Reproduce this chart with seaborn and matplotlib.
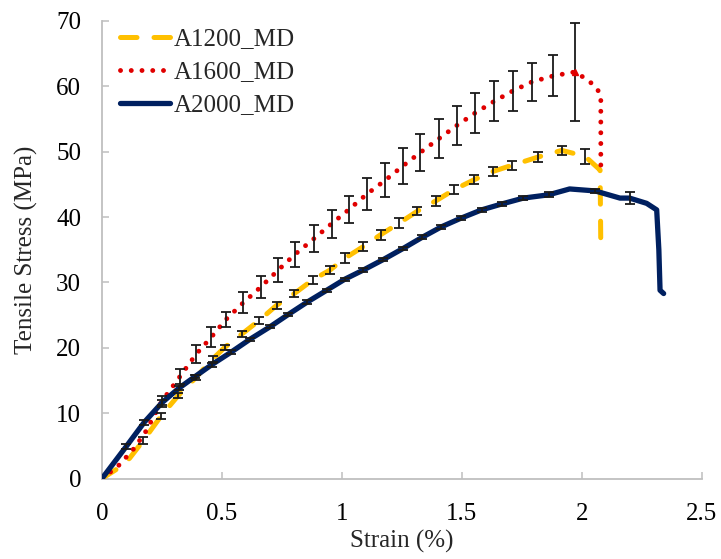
import numpy as np
import matplotlib
matplotlib.use('Agg')
import matplotlib.pyplot as plt
import seaborn as sns

# Strain (%) / tensile stress (MPa) / half error bar
a1200_strain = [0, 0.06, 0.115, 0.172, 0.247, 0.318, 0.39, 0.462, 0.513, 0.583,
                0.656, 0.728, 0.802, 0.879, 0.951, 1.013, 1.09, 1.162, 1.24, 1.315,
                1.393, 1.469, 1.551, 1.632, 1.708, 1.82, 1.917, 2.014, 2.077, 2.08]
a1200_stress = [0, 1.4, 3.1, 5.8, 9.6, 12.7, 15.4, 18.3, 20.1, 22.1,
                24.2, 26.5, 28.3, 30.4, 31.9, 33.7, 35.5, 37.3, 39.1, 40.9,
                42.5, 44.2, 45.7, 47.0, 47.9, 49.2, 50.2, 49.3, 47.2, 35.3]
a1200_err = [0, 0, 0, 0.5, 0.45, 0.35, 0.4, 0.4, 0.4, 0.5,
             0.55, 0.55, 0.55, 0.6, 0.55, 0.75, 0.65, 0.75, 0.7, 0.65,
             0.75, 0.7, 0.7, 0.7, 0.75, 0.75, 0.7, 1.15, 0, 0]

a1600_strain = [0, 0.067, 0.129, 0.178, 0.249, 0.325, 0.392, 0.455, 0.516, 0.589,
                0.662, 0.735, 0.805, 0.884, 0.958, 1.031, 1.104, 1.18, 1.254, 1.328,
                1.405, 1.479, 1.555, 1.635, 1.713, 1.794, 1.882, 1.972, 2.02, 2.057,
                2.08, 2.08]
a1600_stress = [0, 1.9, 4.4, 6.9, 11.8, 15.6, 19.0, 21.6, 24.3, 26.9,
                29.3, 31.9, 34.3, 36.7, 39.0, 41.2, 43.5, 45.6, 47.8, 49.9,
                52.0, 54.0, 55.9, 57.7, 59.3, 60.7, 61.6, 62.2, 61.1, 60.0,
                58.7, 47.0]
a1600_err = [0, 0, 0, 0, 0.8, 1.15, 1.35, 1.55, 1.1, 1.6,
             1.65, 1.8, 1.9, 2.05, 2.15, 2.05, 2.45, 2.6, 2.7, 2.8,
             2.95, 2.95, 3.05, 3.05, 3.0, 2.9, 3.15, 7.45, 0, 0,
             0, 0]

a2000_strain = [0, 0.101, 0.176, 0.25, 0.32, 0.388, 0.457, 0.537, 0.617, 0.7,
                0.777, 0.856, 0.937, 1.013, 1.09, 1.173, 1.256, 1.335, 1.415, 1.495,
                1.583, 1.667, 1.757, 1.862, 1.95, 2.056, 2.16, 2.2, 2.271, 2.313,
                2.322, 2.327, 2.342]
a2000_stress = [0, 4.9, 8.6, 11.6, 13.8, 15.6, 17.4, 19.3, 21.3, 23.2,
                25.1, 27.0, 28.8, 30.5, 31.9, 33.5, 35.2, 36.9, 38.5, 39.8,
                41.1, 42.0, 42.9, 43.4, 44.3, 44.0, 42.9, 42.9, 42.1, 41.1,
                35.0, 28.8, 28.3]
a2000_err = [0, 0.35, 0.4, 0.4, 0.3, 0.3, 0.3, 0.3, 0.25, 0.25,
             0.25, 0.3, 0.25, 0.25, 0.3, 0.25, 0.25, 0.3, 0.3, 0.3,
             0.3, 0.3, 0.3, 0.4, 0, 0.35, 0, 0.95, 0, 0,
             0, 0, 0]

labels = ['A1200_MD', 'A1600_MD', 'A2000_MD']
colors = ['#FFC000', '#E00000', '#002060']

sns.set_theme(style='white')
plt.rcParams['font.family'] = ['Liberation Serif', 'DejaVu Serif']

fig = plt.figure(figsize=(7.21, 5.59), dpi=100)
ax = fig.add_axes([0.1415, 0.144, 0.8315, 0.8185])

series = [
    (a1200_strain, a1200_stress, a1200_err, dict(linestyle=(0, (3.3, 3.4)), linewidth=3.6, dash_capstyle='round')),
    (a1600_strain, a1600_stress, a1600_err, dict(linestyle=(0, (0.01, 2.2)), linewidth=3.5, dash_capstyle='round')),
    (a2000_strain, a2000_stress, a2000_err, dict(linestyle='-', linewidth=3.8, solid_capstyle='round')),
]

handles = []
for (x, y, e, style), lab, col in zip(series, labels, colors):
    sns.lineplot(x=x, y=y, ax=ax, sort=False, estimator=None, color=col, zorder=3, **style)
    handles.append(ax.lines[-1])
    x = np.array(x)
    y = np.array(y)
    e = np.array(e)
    m = e > 0
    ax.errorbar(x[m], y[m], yerr=e[m], fmt='none', ecolor='#1a1a1a',
                elinewidth=1.3, capsize=3.5, capthick=1.3, zorder=4)

# peak marker on the A1600 curve
pk = int(np.argmax(a1600_stress))
ax.plot(a1600_strain[pk], a1600_stress[pk], marker='^', color=colors[1],
        markersize=5, linestyle='none', zorder=5)

ax.set_xlim(0, 2.5)
ax.set_ylim(0, 70)
ax.set_xticks([0, 0.5, 1, 1.5, 2, 2.5])
ax.set_xticklabels(['0', '0.5', '1', '1.5', '2', '2.5'])
ax.set_yticks(range(0, 71, 10))

for side in ['top', 'right']:
    ax.spines[side].set_visible(False)
for side in ['left', 'bottom']:
    ax.spines[side].set_color('#BFBFBF')
    ax.spines[side].set_linewidth(1.3)

ax.tick_params(axis='both', direction='in', length=5, width=1.1, color='#BFBFBF',
               labelsize=18, labelcolor='black')
ax.tick_params(axis='x', pad=17.5, bottom=True)
ax.tick_params(axis='y', pad=15, left=True)

ax.set_xlabel('Strain (%)', fontsize=18, labelpad=3.5)
ax.set_ylabel('Tensile Stress (MPa)', fontsize=18, labelpad=13)

ax.legend(handles, labels, loc='upper left', bbox_to_anchor=(0.03, 0.985),
          frameon=False, fontsize=18, handlelength=2.0, handletextpad=0.15,
          labelspacing=0.42, borderpad=0, borderaxespad=0)

fig.savefig('out.png', dpi=100)
